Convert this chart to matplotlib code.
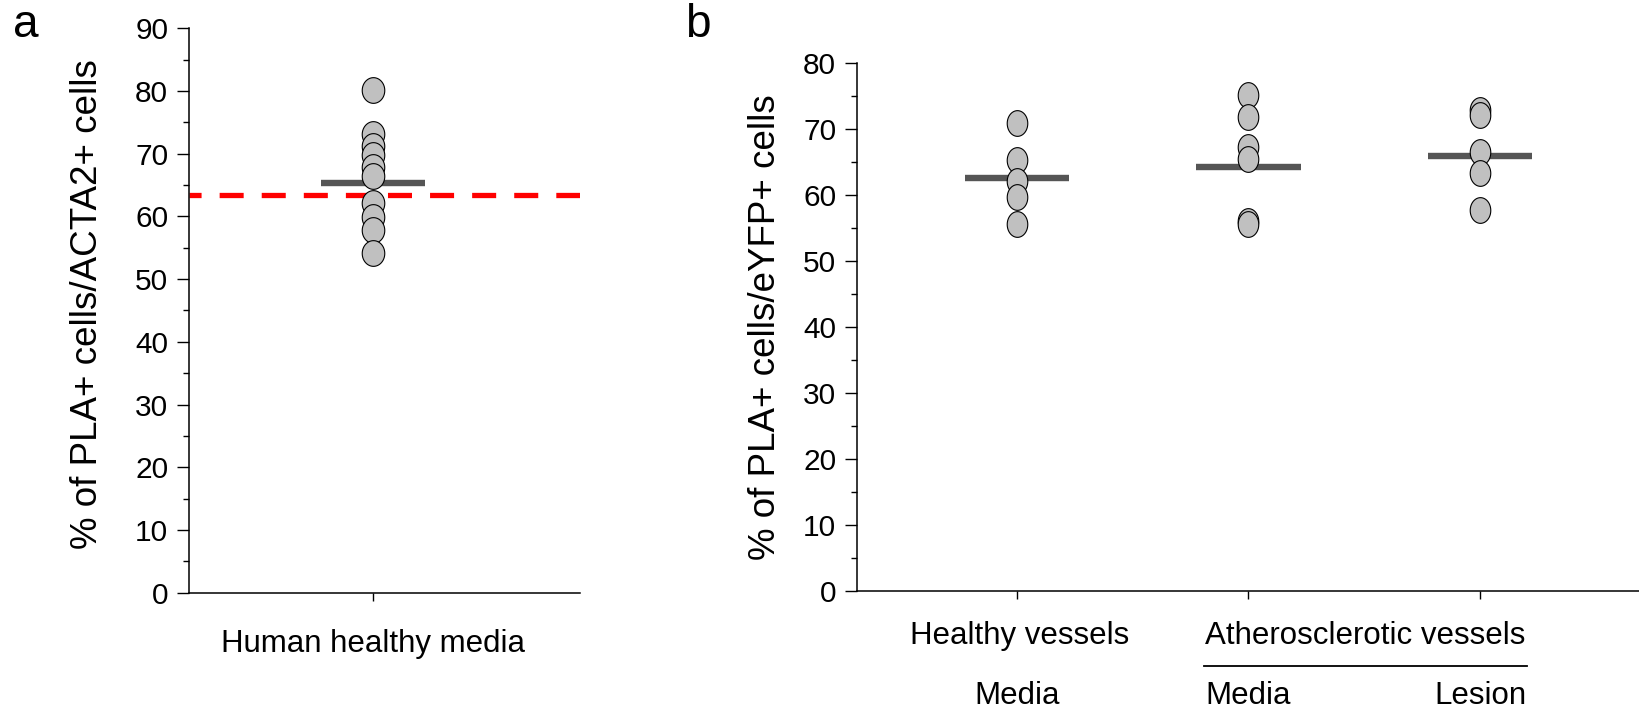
import numpy as np
import matplotlib
matplotlib.use("Agg")
import matplotlib.pyplot as plt
from matplotlib.path import Path

plt.rcParams['font.family'] = ['Liberation Sans', 'DejaVu Sans']
plt.rcParams['lines.scale_dashes'] = False

# ---------------- data ----------------
a_category = ["Human healthy media"]
a_values = [80.2, 73.2, 71.2, 69.8, 67.9, 66.5, 62.1, 59.9, 57.9, 54.1]
a_mean = 65.4
a_reference = 63.4
a_ylabel = "% of PLA+ cells/ACTA2+ cells"

b_categories = ["Media", "Media", "Lesion"]
b_groups = ["Healthy vessels", "Atherosclerotic vessels"]
b_healthy_media = [70.9, 65.3, 62.1, 59.8, 55.6]
b_athero_media = [75.2, 71.9, 67.3, 65.5, 56.1, 55.7]
b_athero_lesion = [72.9, 72.2, 66.6, 63.4, 57.7]
b_means = [62.6, 64.3, 65.9]
b_ylabel = "% of PLA+ cells/eYFP+ cells"

a_yticks = list(range(0, 91, 10))
b_yticks = list(range(0, 81, 10))

# ---------------- styling ----------------
W, H = 1639, 711
fig = plt.figure(figsize=(W / 100, H / 100), dpi=100)

def ellipse_marker(ratio):
    t = np.linspace(0, 2 * np.pi, 80)
    verts = np.column_stack([np.cos(t) / ratio, np.sin(t)])
    return Path(verts, closed=True)

face = '#c0c0c0'
meancol = '#555555'

def style_axis(ax, ymax, yticks):
    for s in ['top', 'right']:
        ax.spines[s].set_visible(False)
    for s in ['left', 'bottom']:
        ax.spines[s].set_linewidth(1.1)
    ax.set_ylim(0, ymax)
    ax.set_yticks(yticks)
    ax.set_yticks(np.arange(5, ymax, 10), minor=True)
    ax.tick_params(axis='y', which='major', length=9, width=1.0, pad=6,
                   labelsize=21.5, direction='out')
    ax.tick_params(axis='y', which='minor', length=4, width=1.0, direction='out')
    ax.tick_params(axis='x', which='major', length=6, width=1.0, direction='out')

# ---------------- panel a ----------------
axa = fig.add_axes([189 / W, 1 - 592.6 / H, (580 - 189) / W, (592.6 - 28.3) / H])
style_axis(axa, 90, a_yticks)
axa.set_xlim(0, 1)
xa = 0.47
axa.axhline(a_reference, color='#ff0000', lw=3.8,
            linestyle=(8.6, (17.3, 13.0)), dash_capstyle='butt', zorder=2)
axa.hlines(a_mean, xa - 0.133, xa + 0.133, color=meancol, lw=4.6,
           capstyle='butt', zorder=3)
axa.plot([xa] * len(a_values), a_values, linestyle='none',
         marker=ellipse_marker(1.14), markersize=18.5, markerfacecolor=face,
         markeredgecolor='black', markeredgewidth=0.8, zorder=4, clip_on=False)
axa.set_xticks([xa])
axa.set_xticklabels(a_category, fontsize=22.5)
axa.tick_params(axis='x', pad=20)
axa.set_ylabel(a_ylabel, fontsize=26.5)
axa.yaxis.set_label_coords(-0.215, 0.512)

# ---------------- panel b ----------------
axb = fig.add_axes([857 / W, 1 - 591 / H, (W - 857) / W, (591 - 63.3) / H])
style_axis(axb, 80, b_yticks)
axb.set_xlim(0.309, 3.687)
b_series = [b_healthy_media, b_athero_media, b_athero_lesion]
for i, (vals, m) in enumerate(zip(b_series, b_means)):
    x = i + 1
    axb.hlines(m, x - 0.225, x + 0.225, color=meancol, lw=4.6,
               capstyle='butt', zorder=3)
    axb.plot([x] * len(vals), vals, linestyle='none',
             marker=ellipse_marker(1.25), markersize=18.5,
             markerfacecolor=face, markeredgecolor='black',
             markeredgewidth=0.8, zorder=4, clip_on=False)
axb.set_xticks([1, 2, 3])
axb.set_xticklabels(b_categories, fontsize=22.5)
axb.tick_params(axis='x', pad=59)
axb.set_ylabel(b_ylabel, fontsize=26.5)
axb.yaxis.set_label_coords(-0.095, 0.5)

hb = 591 - 63.3
axb.text(1.01, -45 / hb, b_groups[0], transform=axb.get_xaxis_transform(),
         ha='center', va='center', fontsize=22.5)
axb.text(2.505, -45 / hb, b_groups[1], transform=axb.get_xaxis_transform(),
         ha='center', va='center', fontsize=22.5)
axb.plot([1.808, 3.205], [-75 / hb, -75 / hb], color='black', lw=1.3,
         transform=axb.get_xaxis_transform(), clip_on=False)

# panel letters
fig.text(13 / W, 1 - 37 / H, 'a', fontsize=33, va='baseline', ha='left')
fig.text(685 / W, 1 - 37 / H, 'b', fontsize=33, va='baseline', ha='left')

fig.savefig('out.png', dpi=100)
